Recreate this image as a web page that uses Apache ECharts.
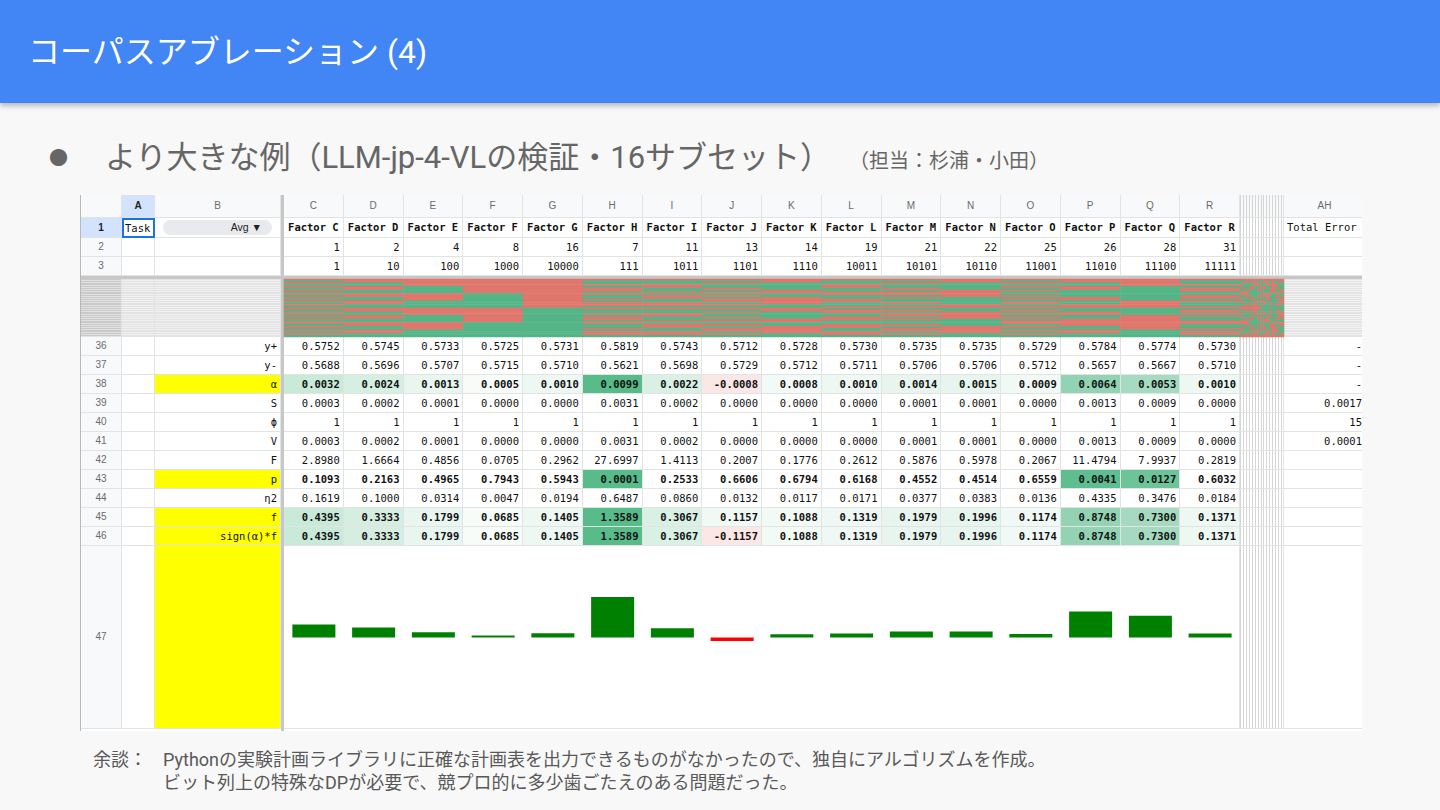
<!DOCTYPE html>
<html>
<head>
<meta charset="utf-8">
<script src="https://cdn.jsdelivr.net/npm/echarts@6/dist/echarts.min.js"></script>
<style>
  body { margin: 0; width: 1440px; height: 810px; background: #f8f8f8; overflow: hidden;
         font-family: Roboto, "Noto Sans CJK JP", sans-serif; position: relative; }
  #hdr { position: absolute; left: 0; top: 0; width: 1440px; height: 103px; background: #4285f4;
         box-shadow: 0 3px 5px rgba(0,0,0,0.25); }
  #title { position: absolute; left: 28px; top: 35px; font-size: 32px; line-height: 34px; color: #fff; white-space: nowrap; }
  #bullet { position: absolute; left: 49px; top: 148px; font-size: 19px; line-height: 22px; color: #666; }
  #sub { position: absolute; left: 105px; top: 140px; font-size: 31px; line-height: 36px; color: #666; white-space: nowrap; }
  #sub small { font-size: 20px; margin-left: 28px; }
  #note { position: absolute; left: 93px; top: 748px; font-size: 18px; line-height: 23px; color: #595959; }
  #note .k { position: absolute; left: 0; top: 0; white-space: nowrap; }
  #note .t { position: absolute; left: 70px; top: 0; white-space: nowrap; }
  #sheet { position: absolute; left: 80px; top: 195px; width: 1282px; height: 536px; background: #fff;
           overflow: hidden; border-left: 1px solid #b8b8b8; box-sizing: border-box; }
  .c { position: absolute; box-sizing: border-box; border-right: 1px solid #e2e3e3; border-bottom: 1px solid #e2e3e3;
       font-family: "DejaVu Sans Mono", monospace; font-size: 10.5px; color: #111; white-space: nowrap; overflow: hidden;
       padding: 0 3px; }
  .r { text-align: right; }
  .m { text-align: center; }
  .b { font-weight: bold; }
  .hd { font-family: "Liberation Sans", Roboto, sans-serif; font-size: 10px; color: #6b6b6b; text-align: center; background: #f8f9fa; padding: 0; }
  .sel { background: #d3e3fd; color: #1f1f1f; font-weight: bold; }
  #chart { position: absolute; left: 0; top: 0; width: 1282px; height: 536px; z-index: 5; pointer-events: none; }
</style>
</head>
<body>
<div id="hdr"><div id="title">コーパスアブレーション (4)</div></div>
<div id="bullet">●</div>
<div id="sub">より大きな例（LLM-jp-4-VLの検証・16サブセット）<small>（担当：杉浦・小田）</small></div>
<div id="sheet"><div id="chart"></div></div>
<div id="note">
  <div class="k">余談：</div>
  <div class="t">Pythonの実験計画ライブラリに正確な計画表を出力できるものがなかったので、独自にアルゴリズムを作成。<br>ビット列上の特殊なDPが必要で、競プロ的に多少歯ごたえのある問題だった。</div>
</div>
<script>
// columns C..R
const colLetters = ['C','D','E','F','G','H','I','J','K','L','M','N','O','P','Q','R'];
const factors = ['Factor C','Factor D','Factor E','Factor F','Factor G','Factor H','Factor I','Factor J',
                 'Factor K','Factor L','Factor M','Factor N','Factor O','Factor P','Factor Q','Factor R'];
const codes = ['1','2','4','8','16','7','11','13','14','19','21','22','25','26','28','31'];
const bitCodes = ['1','10','100','1000','10000','111','1011','1101','1110','10011','10101','10110','11001','11010','11100','11111'];
// hidden columns S..AG
const hiddenLetters = ['S','T','U','V','W','X','Y','Z','AA','AB','AC','AD','AE','AF','AG'];

// rows 36..46
const yPlus  = ['0.5752','0.5745','0.5733','0.5725','0.5731','0.5819','0.5743','0.5712','0.5728','0.5730','0.5735','0.5735','0.5729','0.5784','0.5774','0.5730'];
const yMinus = ['0.5688','0.5696','0.5707','0.5715','0.5710','0.5621','0.5698','0.5729','0.5712','0.5711','0.5706','0.5706','0.5712','0.5657','0.5667','0.5710'];
const alpha  = ['0.0032','0.0024','0.0013','0.0005','0.0010','0.0099','0.0022','-0.0008','0.0008','0.0010','0.0014','0.0015','0.0009','0.0064','0.0053','0.0010'];
const sVals  = ['0.0003','0.0002','0.0001','0.0000','0.0000','0.0031','0.0002','0.0000','0.0000','0.0000','0.0001','0.0001','0.0000','0.0013','0.0009','0.0000'];
const phi    = ['1','1','1','1','1','1','1','1','1','1','1','1','1','1','1','1'];
const vVals  = ['0.0003','0.0002','0.0001','0.0000','0.0000','0.0031','0.0002','0.0000','0.0000','0.0000','0.0001','0.0001','0.0000','0.0013','0.0009','0.0000'];
const fStat  = ['2.8980','1.6664','0.4856','0.0705','0.2962','27.6997','1.4113','0.2007','0.1776','0.2612','0.5876','0.5978','0.2067','11.4794','7.9937','0.2819'];
const pVals  = ['0.1093','0.2163','0.4965','0.7943','0.5943','0.0001','0.2533','0.6606','0.6794','0.6168','0.4552','0.4514','0.6559','0.0041','0.0127','0.6032'];
const eta2   = ['0.1619','0.1000','0.0314','0.0047','0.0194','0.6487','0.0860','0.0132','0.0117','0.0171','0.0377','0.0383','0.0136','0.4335','0.3476','0.0184'];
const fEff   = ['0.4395','0.3333','0.1799','0.0685','0.1405','1.3589','0.3067','0.1157','0.1088','0.1319','0.1979','0.1996','0.1174','0.8748','0.7300','0.1371'];
const signF  = [0.4395, 0.3333, 0.1799, 0.0685, 0.1405, 1.3589, 0.3067, -0.1157, 0.1088, 0.1319, 0.1979, 0.1996, 0.1174, 0.8748, 0.7300, 0.1371];
// column AH
const totalErr = { 36: '-', 37: '-', 38: '-', 39: '0.0017', 40: '15', 41: '0.0001' };

// collapsed rows 4..35: design matrix, one hex string per column (4 rows per digit, 1 = green)
const designHex = ['55555555','33333333','0F0F0F0F','00FF00FF','0000FFFF','69696969','66996699','5AA55AA5',
                   '3CC33CC3','66669999','5A5AA5A5','3C3CC3C3','55AAAA55','33CCCC33','0FF0F00F','69969669'];
const hiddenHex = ['66666666','5A5A5A5A','3C3C3C3C','55AA55AA','33CC33CC','0FF00FF0','69966996','5555AAAA',
                   '3333CCCC','0F0FF0F0','69699696','00FFFF00','66999966','5AA5A55A','3CC3C33C'];

const GREEN = [87, 187, 138], RED = [230, 124, 115];
function mix(c, t) {
  t = Math.max(0, Math.min(1, t));
  return 'rgb(' + c.map(v => Math.round(255 + (v - 255) * t)).join(',') + ')';
}
function signed(max) {
  return v => { v = parseFloat(v); return v >= 0 ? mix(GREEN, v / max) : mix(RED, Math.max(0.18, -v / max)); };
}

const sheet = document.getElementById('sheet');
function cell(x, y, w, h, txt, cls, bg) {
  const d = document.createElement('div');
  d.className = 'c ' + (cls || '');
  d.style.left = x + 'px'; d.style.top = y + 'px';
  d.style.width = w + 'px'; d.style.height = h + 'px';
  d.style.lineHeight = (h - 1) + 'px';
  if (bg) d.style.background = bg;
  if (txt !== undefined) d.textContent = txt;
  sheet.appendChild(d);
  return d;
}

const COLW = 59.75, X0 = 203;
const cx = i => X0 + i * COLW;
const HIDX = 1159, HIDW = 44, AHX = 1203, AHW = 82;
const hidBg = base => 'repeating-linear-gradient(90deg, #d6d6d6 0px, #d6d6d6 1px, ' + base + ' 1px, ' + base + ' 2.93px)';
const stripe = (a, b) => 'repeating-linear-gradient(180deg, ' + a + ' 0px, ' + a + ' 1px, ' + b + ' 1px, ' + b + ' 1.81px)';

// column header row
cell(0, 0, 41, 23, '', 'hd');
cell(41, 0, 33, 23, 'A', 'hd sel');
cell(74, 0, 126, 23, 'B', 'hd');
colLetters.forEach((l, i) => cell(cx(i), 0, COLW, 23, l, 'hd'));
cell(HIDX, 0, HIDW, 23, '', 'hd', hidBg('#f8f9fa'));
cell(AHX, 0, AHW, 23, 'AH', 'hd');

// rows 1..3
const topRows = [[1, 23, 20], [2, 43, 19], [3, 62, 19]];
topRows.forEach(([n, y, h]) => {
  cell(0, y, 41, h, String(n), n === 1 ? 'hd sel' : 'hd');
  cell(HIDX, y, HIDW, h, '', '', hidBg('#fff'));
});
const a1 = cell(41, 23, 33, 20, 'Task', '');
a1.style.border = '2px solid #1a73e8'; a1.style.lineHeight = '16px'; a1.style.padding = '0 1px';
const b1 = cell(74, 23, 126, 20, '', '');
const chip = document.createElement('div');
chip.textContent = 'Avg ▼';
chip.style.cssText = 'position:absolute;left:8px;top:2px;width:109px;height:15px;border-radius:8px;background:#e9eaed;' +
  'font-family:"Liberation Sans",sans-serif;font-size:10.5px;line-height:15px;text-align:right;padding-right:10px;box-sizing:border-box;color:#222;';
b1.appendChild(chip);
factors.forEach((t, i) => cell(cx(i), 23, COLW, 20, t, 'm b'));
cell(AHX, 23, AHW, 20, 'Total Error', '');
[43, 62].forEach(y => { cell(41, y, 33, 19); cell(74, y, 126, 19); cell(AHX, y, AHW, 19); });
codes.forEach((t, i) => cell(cx(i), 43, COLW, 19, t, 'r'));
bitCodes.forEach((t, i) => cell(cx(i), 62, COLW, 19, t, 'r'));

// collapsed rows band
cell(0, 84, 41, 58, '', '', stripe('#c9c9c9', '#e2e2e2'));
cell(41, 84, 33, 58, '', '', stripe('#e3e3e3', '#f0f0f0'));
cell(74, 84, 126, 58, '', '', stripe('#e3e3e3', '#f0f0f0'));
cell(AHX, 84, AHW, 58, '', '', stripe('#e3e3e3', '#f3f3f3'));

// rows 36..46
const rows = [
  { n: 36, label: 'y+', vals: yPlus },
  { n: 37, label: 'y-', vals: yMinus },
  { n: 38, label: 'α', vals: alpha, hi: true, color: signed(0.0099) },
  { n: 39, label: 'S', vals: sVals },
  { n: 40, label: 'ϕ', vals: phi },
  { n: 41, label: 'V', vals: vVals },
  { n: 42, label: 'F', vals: fStat },
  { n: 43, label: 'p', vals: pVals, hi: true, color: v => mix(GREEN, 1 - parseFloat(v) / 0.1) },
  { n: 44, label: 'η2', vals: eta2 },
  { n: 45, label: 'f', vals: fEff, hi: true, color: signed(1.3589) },
  { n: 46, label: 'sign(α)*f', vals: signF.map(v => v.toFixed(4)), hi: true, color: signed(1.3589) }
];
rows.forEach(r => {
  const y = 142 + (r.n - 36) * 19;
  cell(0, y, 41, 19, String(r.n), 'hd');
  cell(41, y, 33, 19);
  cell(74, y, 126, 19, r.label, 'r', r.hi ? '#ffff00' : null);
  r.vals.forEach((v, i) => cell(cx(i), y, COLW, 19, v, r.hi ? 'r b' : 'r', r.color ? r.color(v) : null));
  cell(HIDX, y, HIDW, 19, '', '', hidBg('#fff'));
  cell(AHX, y, AHW, 19, totalErr[r.n] || '', 'r');
});

// row 47 (sparkline row)
cell(0, 351, 41, 183, '47', 'hd');
cell(41, 351, 33, 183);
cell(74, 351, 126, 183, '', '', '#ffff00');
cell(X0, 351, COLW * 16, 183);
cell(HIDX, 351, HIDW, 183, '', '', hidBg('#fff'));
cell(AHX, 351, AHW, 183);

// freeze lines
const fz = (x, y, w, h) => { const d = document.createElement('div');
  d.style.cssText = 'position:absolute;background:#c7c7c7;left:' + x + 'px;top:' + y + 'px;width:' + w + 'px;height:' + h + 'px;z-index:3';
  sheet.appendChild(d); };
fz(200, 0, 3, 536);
fz(0, 81, 1282, 3);

// ECharts: collapsed design-matrix heatmap + sign(α)*f bars
function hexBits(h) {
  const out = [];
  h.split('').forEach(ch => { const n = parseInt(ch, 16); for (let b = 3; b >= 0; b--) out.push((n >> b) & 1); });
  return out;
}
const runs = Array.from({ length: 32 }, (_, i) => String(i + 4));
const heatData = [], hiddenData = [];
designHex.forEach((h, ci) => hexBits(h).forEach((b, ri) => heatData.push([ci, ri, b])));
hiddenHex.forEach((h, ci) => hexBits(h).forEach((b, ri) => hiddenData.push([ci, ri, b])));

const chart = echarts.init(document.getElementById('chart'));
chart.setOption({
  animation: false,
  grid: [
    { left: 203, top: 84, width: 956, height: 58 },
    { left: 1159, top: 84, width: 44, height: 58 },
    { left: 203, top: 353, width: 956, height: 179 }
  ],
  xAxis: [
    { type: 'category', gridIndex: 0, data: colLetters, show: false },
    { type: 'category', gridIndex: 1, data: hiddenLetters, show: false },
    { type: 'category', gridIndex: 2, data: colLetters, show: false }
  ],
  yAxis: [
    { type: 'category', gridIndex: 0, data: runs, inverse: true, show: false },
    { type: 'category', gridIndex: 1, data: runs, inverse: true, show: false },
    { type: 'value', gridIndex: 2, min: -3, max: 3, show: false }
  ],
  visualMap: {
    type: 'piecewise', show: false, seriesIndex: [0, 1], dimension: 2,
    pieces: [{ value: 0, color: '#e0766c' }, { value: 1, color: '#55b587' }]
  },
  series: [
    { type: 'heatmap', xAxisIndex: 0, yAxisIndex: 0, data: heatData, progressive: 0 },
    { type: 'heatmap', xAxisIndex: 1, yAxisIndex: 1, data: hiddenData, progressive: 0 },
    {
      type: 'bar', xAxisIndex: 2, yAxisIndex: 2, barCategoryGap: '28%',
      data: signF.map(v => ({ value: v, itemStyle: { color: v < 0 ? '#ff0000' : '#008000' } }))
    }
  ]
});
</script>
</body>
</html>
